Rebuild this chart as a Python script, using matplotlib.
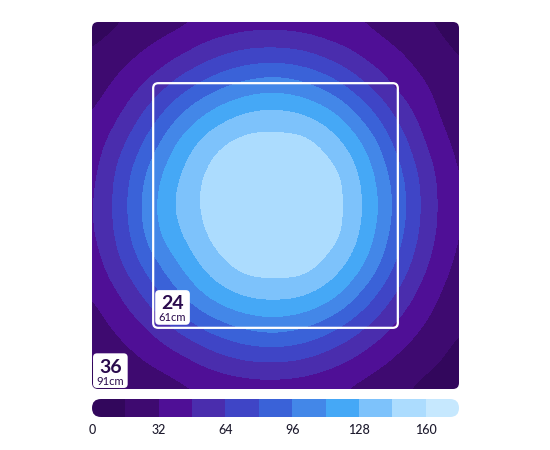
import matplotlib

matplotlib.use("Agg")
import matplotlib.pyplot as plt
import numpy as np
from matplotlib.colors import BoundaryNorm, ListedColormap
from matplotlib.patches import FancyBboxPatch

# measurement grid, inches from the top-left corner of the 36" area
grid_in = [0, 3, 6, 9, 12, 15, 18, 21, 24, 27, 30, 33, 36]

# intensity, one row per grid line (top to bottom)
ppfd_rows = [
    [10, 16, 24, 30, 37, 41, 42, 40, 35, 31, 24, 17, 10],
    [17, 26, 36, 47, 59, 67, 69, 65, 55, 43, 33, 24, 15],
    [25, 37, 53, 72, 88, 99, 103, 97, 83, 63, 44, 31, 20],
    [32, 49, 73, 98, 117, 129, 132, 127, 112, 87, 60, 38, 23],
    [40, 62, 91, 119, 140, 150, 151, 149, 134, 108, 75, 46, 28],
    [44, 72, 104, 131, 150, 154, 155, 154, 147, 120, 86, 54, 31],
    [46, 75, 109, 135, 151, 155, 156, 155, 149, 124, 90, 56, 33],
    [45, 72, 105, 129, 148, 154, 155, 154, 147, 120, 86, 54, 31],
    [40, 63, 90, 115, 137, 149, 151, 149, 134, 108, 76, 47, 28],
    [32, 49, 72, 96, 116, 128, 131, 127, 112, 87, 60, 38, 23],
    [25, 37, 52, 71, 87, 98, 102, 96, 82, 63, 44, 29, 17],
    [16, 26, 36, 46, 58, 66, 68, 64, 54, 42, 30, 20, 12],
    [10, 16, 23, 30, 36, 40, 41, 39, 34, 27, 19, 12, 7],
]

level_bounds = [0, 16, 32, 48, 64, 80, 96, 112, 128, 144, 160, 176]
band_colors = [
    "#32075c", "#3e0a70", "#4f0f96", "#4a2dad", "#3f45c6", "#3a62d8",
    "#4387e8", "#45a8f6", "#7dc2fb", "#acdcfe", "#c6e8fe",
]
tick_values = [0, 32, 64, 96, 128, 160]

area_in = 36
inner_lo, inner_hi = 6, 30
inner_label = ("24", "61cm")
outer_label = ("36", "91cm")

TEXT_DARK = "#1e1b2e"
LABEL_DARK = "#2a0b4d"

plt.rcParams["font.family"] = ["Lato", "DejaVu Sans"]

fig = plt.figure(figsize=(5.5, 4.5), dpi=100)
fig.patch.set_facecolor("white")

ax = fig.add_axes([92 / 550, 61 / 450, 367 / 550, 367 / 450])
ax.axis("off")

cmap = ListedColormap(band_colors)
norm = BoundaryNorm(level_bounds, cmap.N)
half = (grid_in[1] - grid_in[0]) / 2
zz = np.array(ppfd_rows, dtype=float)

clip = FancyBboxPatch((0, 0), area_in, area_in,
                      boxstyle="round,pad=0,rounding_size=0.6",
                      transform=ax.transData, facecolor="none", edgecolor="none")
img = ax.imshow(zz, cmap=cmap, norm=norm, interpolation="mitchell",
                interpolation_stage="data", origin="upper",
                extent=[grid_in[0] - half, grid_in[-1] + half,
                        grid_in[-1] + half, grid_in[0] - half])
img.set_clip_path(clip)
ax.set_xlim(0, area_in)
ax.set_ylim(area_in, 0)

inner = FancyBboxPatch((inner_lo, inner_lo), inner_hi - inner_lo, inner_hi - inner_lo,
                       boxstyle="round,pad=0,rounding_size=0.5",
                       facecolor="none", edgecolor="white", linewidth=1.6, zorder=3)
ax.add_patch(inner)


def size_tag(x0, y0, big, small):
    box = FancyBboxPatch((x0, y0), 3.4, 3.4,
                         boxstyle="round,pad=0,rounding_size=0.4",
                         facecolor="white", edgecolor="none", zorder=4)
    ax.add_patch(box)
    ax.text(x0 + 1.7, y0 + 1.35, big, ha="center", va="center", fontsize=14,
            fontweight="bold", color=LABEL_DARK, zorder=5)
    ax.text(x0 + 1.7, y0 + 2.72, small, ha="center", va="center", fontsize=8,
            color=LABEL_DARK, zorder=5)


size_tag(6.2, 26.3, *inner_label)
size_tag(0.1, 32.5, *outer_label)

# colour legend bar with rounded ends
cax = fig.add_axes([92 / 550, 33 / 450, 367 / 550, 18 / 450])
cax.set_xlim(level_bounds[0], level_bounds[-1])
cax.set_ylim(0, 1)
cax.axis("off")
pill = FancyBboxPatch((0, 0), 1, 1,
                      boxstyle=f"round,pad=0,rounding_size={9 / 367}",
                      mutation_aspect=367 / 18, transform=cax.transAxes,
                      facecolor="none", edgecolor="none")
bars = cax.bar(level_bounds[:-1], 1, width=16, align="edge", color=band_colors,
               linewidth=0)
for rect in bars:
    rect.set_clip_path(pill)

for v in tick_values:
    cax.text(v, -0.72, str(v), ha="center", va="center", fontsize=9,
             fontweight="medium", color=TEXT_DARK)

fig.savefig("out.png", dpi=100, facecolor="white")
